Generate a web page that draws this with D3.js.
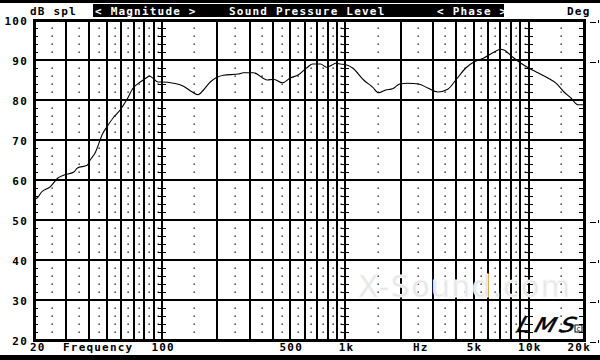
<!DOCTYPE html>
<html>
<head>
<meta charset="utf-8">
<script src="https://cdn.jsdelivr.net/npm/d3@7"></script>
<style>
  html, body { margin: 0; padding: 0; background: #fff; }
  svg { display: block; }
  .lbl { font-family: 'DejaVu Sans Mono', monospace; font-weight: bold; font-size: 11px; letter-spacing: 1.2px; }
</style>
</head>
<body>
<svg id="graph" width="600" height="360"></svg>
<script>
  const freqHz = [20, 20.8, 22, 24.5, 27, 29, 33, 34.5, 39, 40.5, 43, 47.5, 50, 54, 59, 64, 69.5, 76, 83, 85, 89, 95,
    101, 115, 130, 146, 157, 168, 183, 216, 261, 277, 315, 375, 405, 453, 500, 554, 621, 661, 731, 788, 850, 883, 940,
    1026, 1094, 1256, 1406, 1516, 1656, 1808, 1976, 2184, 2508, 2810, 3186, 3612, 4000, 4530, 5012, 5686, 6366, 7036,
    7312, 8186, 9058, 10000, 11216, 12706, 14060, 15560, 16980, 18540, 20000];
  const splDb = [55.2, 55.5, 57, 58.3, 60.5, 61.2, 62, 63, 63.7, 65, 66.7, 71.7, 73.3, 75.5, 77.5, 80, 83, 84.5, 85.7, 86, 85.5, 84.5,
    84.5, 84.2, 83.5, 82, 81.3, 82.5, 84.5, 86.2, 86.5, 86.8, 86.8, 85, 85.2, 84.3, 85.5, 86.3, 88.2, 89, 89, 88.2, 88.8, 89.2, 89,
    88.7, 88, 85, 83.2, 81.8, 82.5, 82.8, 84, 84.2, 84, 83, 82, 82.7, 85, 88, 89.5, 90.5, 91.8, 92.7,
    92.5, 90.7, 89.2, 88, 86.8, 85.5, 84.2, 82, 80.5, 78.8, 78.8];

  const dbTicks = [20, 30, 40, 50, 60, 70, 80, 90, 100];
  const freqLabelValues = [20, 100, 500, 1000, 5000, 10000, 20000];
  const freqLabelTexts = ['20', '100', '500', '1k', '5k', '10k', '20k'];
  const decades = [100, 1000, 10000];
  const phaseTickDb = [100, 90, 50, 40, 30, 20];

  const graph = d3.select('#graph');
  const x = d3.scaleLog().domain([20, 20000]).range([34, 584]);
  const y = d3.scaleLinear().domain([20, 100]).range([340, 20]);

  // grid frequencies
  const solidFreqs = [];
  const dotFreqs = [];
  [10, 100, 1000, 10000].forEach(d => {
    for (let k = 1; k <= 9; k++) {
      const f = k * d;
      if (f > 20 && f < 20000) solidFreqs.push(f);
      const m = (k + 0.5) * d;
      if (m > 20 && m < 20000) dotFreqs.push(m);
    }
  });
  const minorDb = d3.range(22, 100, 2).filter(v => v % 10 !== 0);

  // header
  graph.append('rect').attr('x', 0).attr('y', 0).attr('width', 600).attr('height', 3).attr('fill', '#000');
  graph.append('rect').attr('x', 93).attr('y', 4).attr('width', 411).attr('height', 13).attr('fill', '#000');
  graph.append('rect').attr('x', 0).attr('y', 355).attr('width', 600).attr('height', 5).attr('fill', '#000');

  const header = [
    {t: 'dB spl', x: 30, c: '#000'},
    {t: '< Magnitude >', x: 95, c: '#fff'},
    {t: 'Sound Pressure Level', x: 229, c: '#fff'},
    {t: '< Phase >', x: 437, c: '#fff'},
    {t: 'Deg', x: 567, c: '#000'}
  ];
  graph.selectAll('text.hdr').data(header).enter().append('text')
    .attr('class', 'lbl hdr')
    .attr('x', d => d.x).attr('y', 15)
    .attr('fill', d => d.c)
    .text(d => d.t);

  // dotted verticals
  const dots = [];
  dotFreqs.forEach(f => minorDb.forEach(v => dots.push([f, v])));
  graph.append('g').selectAll('rect').data(dots).enter().append('rect')
    .attr('x', d => Math.round(x(d[0])) - 0.5)
    .attr('y', d => Math.round(y(d[1])) - 0.5)
    .attr('width', 1.3).attr('height', 1.3)
    .attr('fill', '#000');

  const grid = graph.append('g').attr('shape-rendering', 'crispEdges');
  grid.selectAll('line.v').data(solidFreqs).enter().append('line')
    .attr('class', 'v')
    .attr('x1', d => Math.round(x(d))).attr('x2', d => Math.round(x(d)))
    .attr('y1', y(100)).attr('y2', y(20))
    .attr('stroke', '#000').attr('stroke-width', 2);
  grid.selectAll('line.h').data(dbTicks.slice(1, -1)).enter().append('line')
    .attr('class', 'h')
    .attr('x1', x(20)).attr('x2', x(20000))
    .attr('y1', d => y(d)).attr('y2', d => y(d))
    .attr('stroke', '#000').attr('stroke-width', 2);

  // minor ticks on axes and decade lines
  const ticks = [];
  minorDb.forEach(v => {
    ticks.push({x1: x(20), x2: x(20) + 4, v});
    ticks.push({x1: x(20000) - 5, x2: x(20000), v});
    decades.forEach(f => ticks.push({x1: Math.round(x(f)) - 4, x2: Math.round(x(f)) + 4, v}));
  });
  grid.selectAll('line.t').data(ticks).enter().append('line')
    .attr('class', 't')
    .attr('x1', d => d.x1).attr('x2', d => d.x2)
    .attr('y1', d => Math.round(y(d.v))).attr('y2', d => Math.round(y(d.v)))
    .attr('stroke', '#000').attr('stroke-width', 1);

  // phase ticks outside right
  grid.selectAll('line.p').data(phaseTickDb).enter().append('line')
    .attr('class', 'p')
    .attr('x1', 590).attr('x2', 596)
    .attr('y1', d => y(d) + 2).attr('y2', d => y(d) + 2)
    .attr('stroke', '#000').attr('stroke-width', 1);
  grid.selectAll('rect.p').data(phaseTickDb).enter().append('rect')
    .attr('class', 'p')
    .attr('x', 598).attr('y', d => y(d)).attr('width', 1).attr('height', 3)
    .attr('fill', '#000');

  // watermark
  graph.append('text')
    .attr('x', 358).attr('y', 297)
    .attr('textLength', 212)
    .style('font-family', 'DejaVu Sans').style('font-size', '30px')
    .attr('fill', '#e4e4e4').attr('stroke', '#f6f6f6').attr('stroke-width', 1)
    .text('X-Sound.com');

  // curve
  const line = d3.line()
    .x((d, i) => x(freqHz[i]))
    .y(d => y(d))
    .curve(d3.curveMonotoneX);
  graph.append('path')
    .attr('d', line(splDb))
    .attr('fill', 'none')
    .attr('stroke', '#000')
    .attr('stroke-width', 1.1);

  // frame
  graph.append('rect')
    .attr('x', x(20)).attr('y', y(100))
    .attr('width', x(20000) - x(20)).attr('height', y(20) - y(100))
    .attr('fill', 'none').attr('stroke', '#000').attr('stroke-width', 3)
    .attr('shape-rendering', 'crispEdges');

  // y labels
  graph.selectAll('text.yl').data(dbTicks).enter().append('text')
    .attr('class', 'lbl yl')
    .attr('x', 28).attr('y', d => y(d) + 5)
    .attr('text-anchor', 'end')
    .text(d => d);

  // x labels
  graph.selectAll('text.xl').data(freqLabelValues).enter().append('text')
    .attr('class', 'lbl xl')
    .attr('x', (d, i) => i === 0 ? x(d) - 4 : i === freqLabelValues.length - 1 ? x(d) + 7 : x(d) + 1)
    .attr('y', 351)
    .attr('text-anchor', (d, i) => i === 0 ? 'start' : i === freqLabelValues.length - 1 ? 'end' : 'middle')
    .text((d, i) => freqLabelTexts[i]);
  graph.append('text').attr('class', 'lbl').attr('x', 63).attr('y', 351).text('Frequency');
  graph.append('text').attr('class', 'lbl').attr('x', 413).attr('y', 351).text('Hz');

  // LMS logo
  graph.append('text')
    .attr('transform', 'translate(514,332) skewX(-28) scale(1,0.85)')
    .style('font-family', 'DejaVu Sans').style('font-size', '24px')
    .attr('textLength', 58)
    .attr('fill', '#000').attr('stroke', '#000').attr('stroke-width', 0.6)
    .text('LMS');
  graph.append('rect').attr('x', 575).attr('y', 325).attr('width', 7).attr('height', 7)
    .attr('fill', '#fff').attr('stroke', '#000').attr('stroke-width', 1);
  graph.append('text').attr('x', 578.5).attr('y', 331).attr('text-anchor', 'middle')
    .style('font-family', 'DejaVu Sans').style('font-size', '7px').text('c');
</script>
</body>
</html>
